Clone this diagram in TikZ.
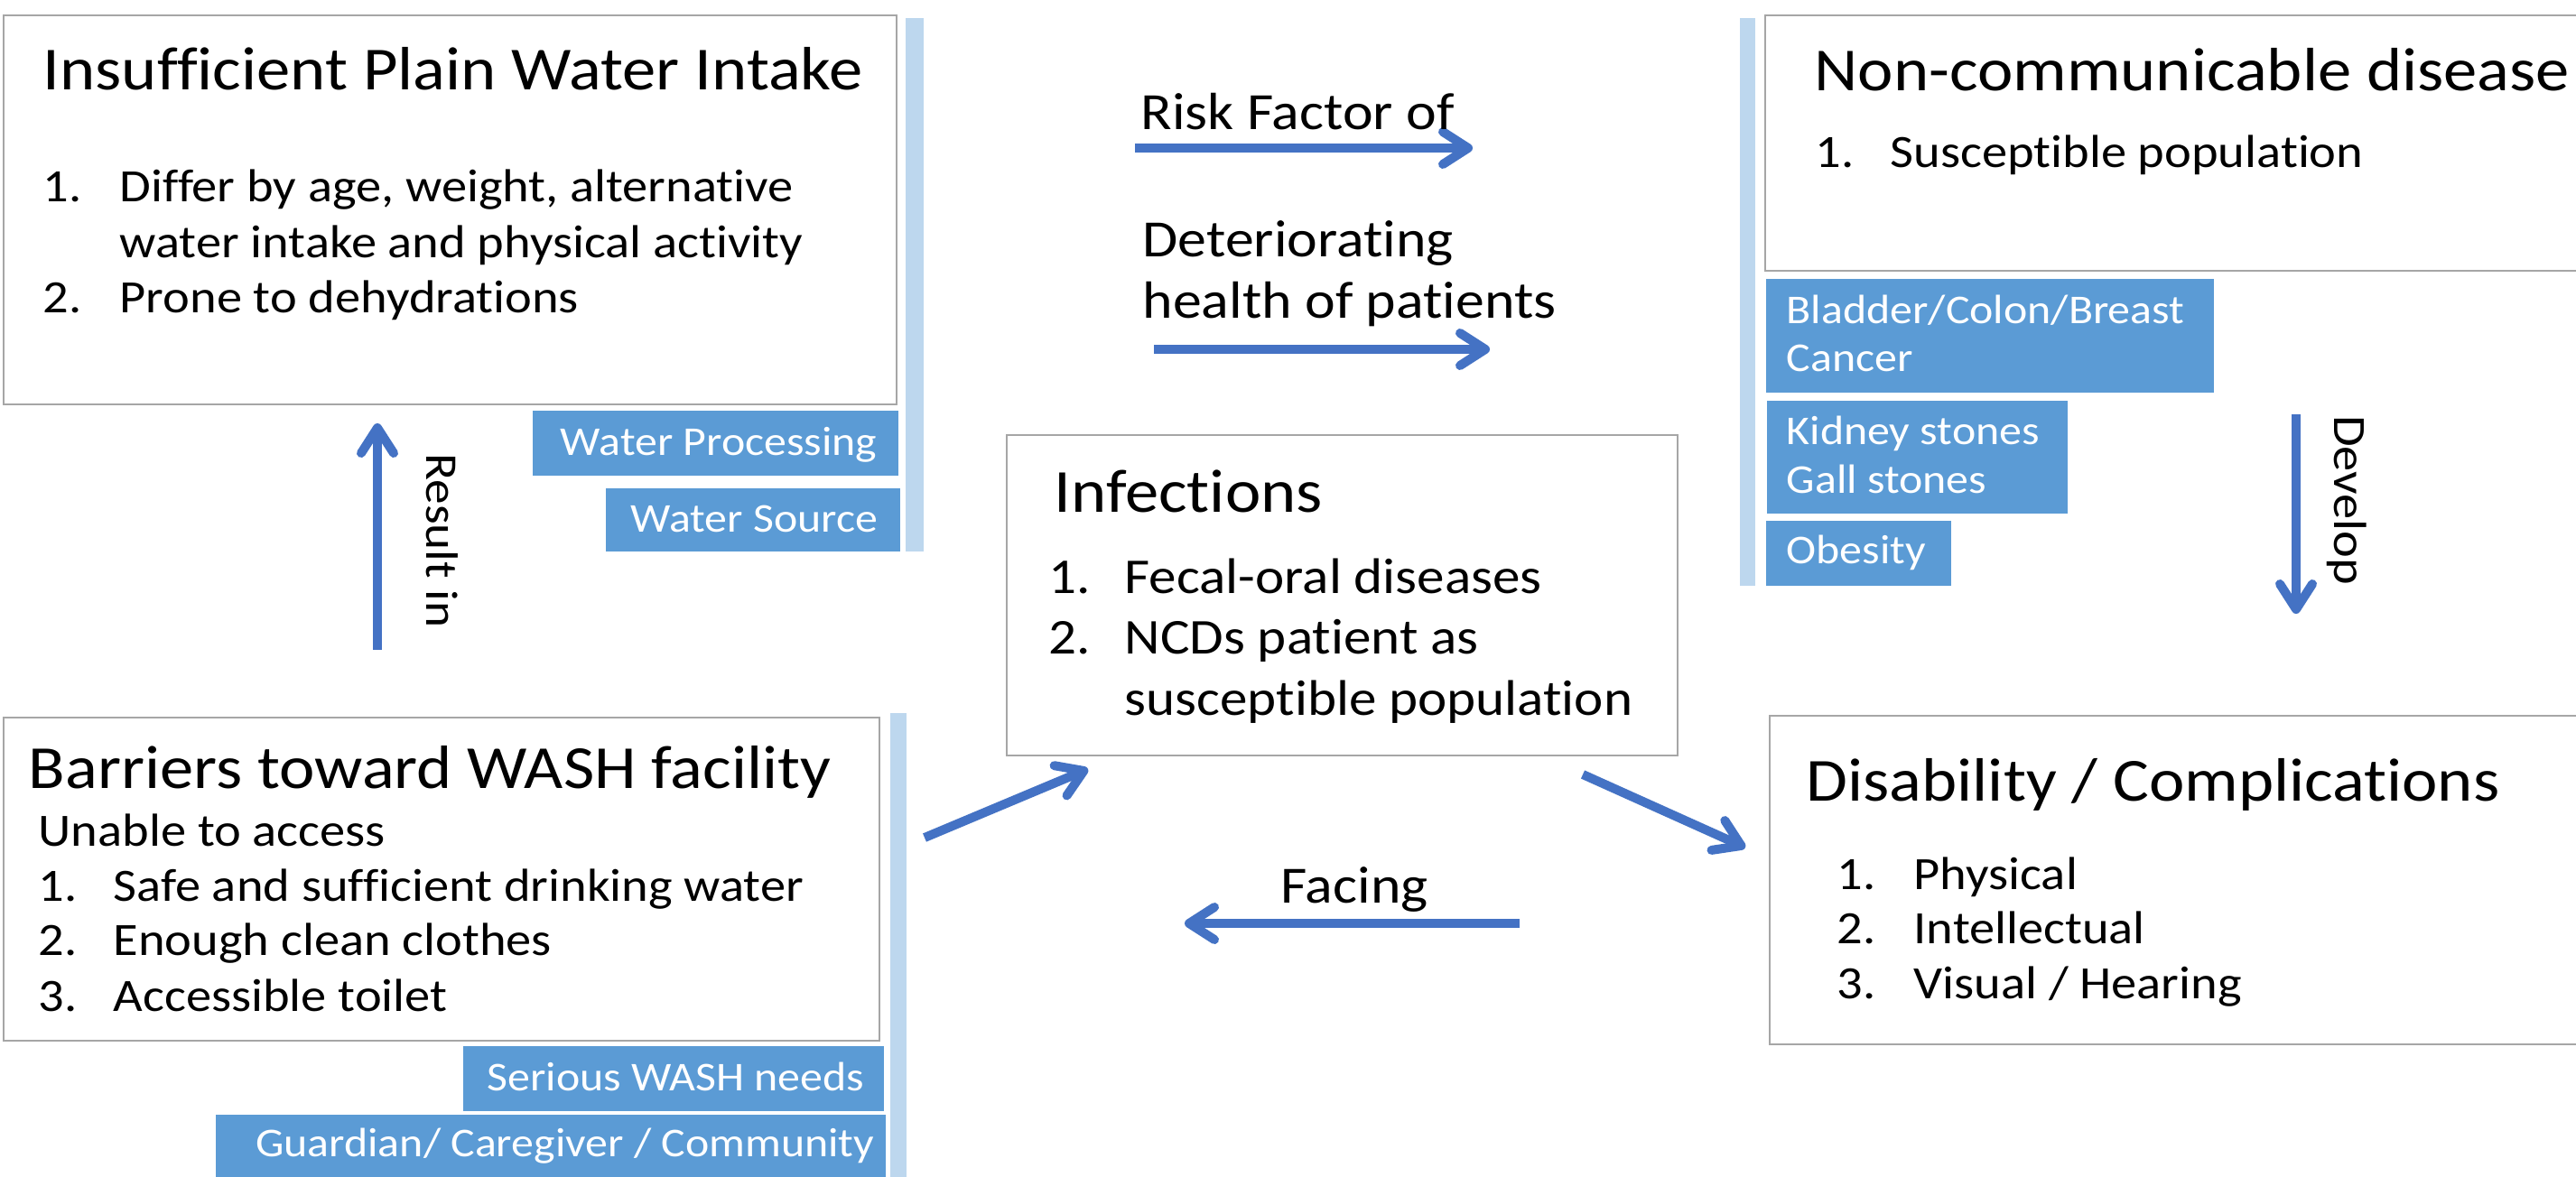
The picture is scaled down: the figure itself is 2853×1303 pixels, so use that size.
\documentclass[tikz,border=0pt]{standalone}
\usepackage{fontspec}
\setmainfont{Carlito}[FakeStretch=1.1, Ligatures=NoCommon]
\usepackage{tikz}
\usetikzlibrary{arrows.meta, fit}

\definecolor{arrowblue}{HTML}{4472C4}
\definecolor{tagblue}{HTML}{5B9BD5}
\definecolor{barblue}{HTML}{BDD7EE}
\definecolor{boxgray}{HTML}{A6A6A6}

\tikzset{
    box/.style={draw=boxgray, line width=0.25mm, inner sep=0pt},
    tag/.style={fill=tagblue, inner sep=0pt},
    head/.style={anchor=base west, inner sep=0pt, font=\fontsize{19.3}{23}\selectfont},
    txt/.style={anchor=base west, inner sep=0pt, font=\fontsize{14.6}{17}\selectfont},
    bigtxt/.style={txt, font=\fontsize{15.8}{18}\selectfont},
    tagtxt/.style={inner sep=0pt, text=white, font=\fontsize{12.9}{15}\selectfont},
    lbl/.style={inner sep=0pt, font=\fontsize{16.5}{19}\selectfont},
    flow/.style={arrowblue, line width=1mm, -{Straight Barb[length=2.8mm, width=3.6mm, round]}},
}

\begin{document}
\begin{tikzpicture}[x=0.1mm, y=-0.1mm]
    \fill[white] (0,0) rectangle (2853,1303);
    \path[use as bounding box, clip] (0,0) rectangle (2853,1303);

    % light side bars
    \fill[barblue] (1003,20) rectangle (1023,611);
    \fill[barblue] (1927,20) rectangle (1944,649);
    \fill[barblue] (986,790) rectangle (1004,1310);

    % Insufficient plain water intake
    \node[box, fit={(4,17) (993,448)}] (intake) {};
    \node[head] (intake-t) at (47,99) {Insufficient Plain Water Intake};
    \node[txt] (intake-n1) at (47,223) {1.};
    \node[txt] (intake-i1) at (132,223) {Differ by age, weight, alternative};
    \node[txt] (intake-i1b) at (132,285) {water intake and physical activity};
    \node[txt] (intake-n2) at (47,346) {2.};
    \node[txt] (intake-i2) at (132,346) {Prone to dehydrations};

    \node[tag, fit={(590,455) (995,527)}] (wproc) {};
    \node[tagtxt, anchor=base east] (wproc-t) at (972,504) {Water Processing};
    \node[tag, fit={(671,541) (997,611)}] (wsrc) {};
    \node[tagtxt, anchor=base east] (wsrc-t) at (973,589) {Water Source};

    % Non-communicable diseases
    \node[box, fit={(1955,17) (2900,300)}] (ncd) {};
    \node[head] (ncd-t) at (2009,100) {Non-communicable disease};
    \node[txt] (ncd-n1) at (2010,185) {1.};
    \node[txt] (ncd-i1) at (2093,185) {Susceptible population};

    \node[tag, fit={(1956,309) (2452,435)}] (bladder) {};
    \node[tagtxt, anchor=base west] (bladder-t) at (1978,358) {Bladder/Colon/Breast};
    \node[tagtxt, anchor=base west] (bladder-tb) at (1978,411) {Cancer};
    \node[tag, fit={(1957,444) (2290,569)}] (kidney) {};
    \node[tagtxt, anchor=base west] (kidney-t) at (1978,492) {Kidney stones};
    \node[tagtxt, anchor=base west] (kidney-tb) at (1978,546) {Gall stones};
    \node[tag, fit={(1956,577) (2161,649)}] (obesity) {};
    \node[tagtxt, anchor=base west] (obesity-t) at (1978,624) {Obesity};

    % Infections
    \node[box, fit={(1115,482) (1858,837)}] (infect) {};
    \node[head] (infect-t) at (1167,567) {Infections};
    \node[bigtxt] (infect-n1) at (1161,657) {1.};
    \node[bigtxt] (infect-i1) at (1245,657) {Fecal-oral diseases};
    \node[bigtxt] (infect-n2) at (1161,724) {2.};
    \node[bigtxt] (infect-i2) at (1245,724) {NCDs patient as};
    \node[bigtxt] (infect-i2b) at (1245,792) {susceptible population};

    % Barriers toward WASH facility
    \node[box, fit={(4,795) (974,1153)}] (barrier) {};
    \node[head] (barrier-t) at (31,873) {Barriers toward WASH facility};
    \node[txt] (barrier-s) at (42,937) {Unable to access};
    \node[txt] (barrier-n1) at (42,998) {1.};
    \node[txt] (barrier-i1) at (125,998) {Safe and sufficient drinking water};
    \node[txt] (barrier-n2) at (42,1058) {2.};
    \node[txt] (barrier-i2) at (125,1058) {Enough clean clothes};
    \node[txt] (barrier-n3) at (42,1120) {3.};
    \node[txt] (barrier-i3) at (125,1120) {Accessible toilet};

    \node[tag, fit={(513,1159) (979,1231)}] (serious) {};
    \node[tagtxt, anchor=base east] (serious-t) at (958,1208) {Serious WASH needs};
    \node[tag, fit={(239,1235) (981,1310)}] (guardian) {};
    \node[tagtxt, anchor=base east] (guardian-t) at (969,1281) {Guardian/ Caregiver / Community};

    % Disability / complications
    \node[box, fit={(1960,793) (2900,1157)}] (disab) {};
    \node[head] (disab-t) at (2000,887) {Disability / Complications};
    \node[txt] (disab-n1) at (2034,985) {1.};
    \node[txt] (disab-i1) at (2119,985) {Physical};
    \node[txt] (disab-n2) at (2034,1045) {2.};
    \node[txt] (disab-i2) at (2119,1045) {Intellectual};
    \node[txt] (disab-n3) at (2034,1106) {3.};
    \node[txt] (disab-i3) at (2119,1106) {Visual / Hearing};

    % arrow ends
    \coordinate (rf-a) at (1257,164);  \coordinate (rf-b) at (1631,164);
    \coordinate (dh-a) at (1278,387);  \coordinate (dh-b) at (1650,387);
    \coordinate (ri-a) at (418,720);   \coordinate (ri-b) at (418,469);
    \coordinate (dv-a) at (2543,459);  \coordinate (dv-b) at (2543,680);
    \coordinate (bi-a) at (1024,928);  \coordinate (bi-b) at (1205,852);
    \coordinate (id-a) at (1753,858);  \coordinate (id-b) at (1933,939);
    \coordinate (fc-a) at (1683,1023); \coordinate (fc-b) at (1312,1023);

    % the arrows and their labels
    \draw[flow] (rf-a) -- (rf-b);
    \node[lbl, anchor=base west] (rf-l) at (1263,143) {Risk Factor of};
    \draw[flow] (dh-a) -- (dh-b);
    \node[lbl, anchor=base west] (dh-l) at (1265,284) {Deteriorating};
    \node[lbl, anchor=base west] (dh-lb) at (1265,352) {health of patients};
    \draw[flow] (ri-a) -- (ri-b);
    \node[lbl, rotate=-90, font=\fontsize{14.3}{17}\selectfont] (ri-l) at (490,599) {Result in};
    \draw[flow] (dv-a) -- (dv-b);
    \node[lbl, rotate=-90, font=\fontsize{14.6}{17}\selectfont] (dv-l) at (2599,554) {Develop};
    \draw[flow] (bi-a) -- (bi-b);
    \draw[flow] (id-a) -- (id-b);
    \draw[flow] (fc-a) -- (fc-b);
    \node[lbl, anchor=base] (fc-l) at (1500,1000) {Facing};
\end{tikzpicture}
\end{document}
